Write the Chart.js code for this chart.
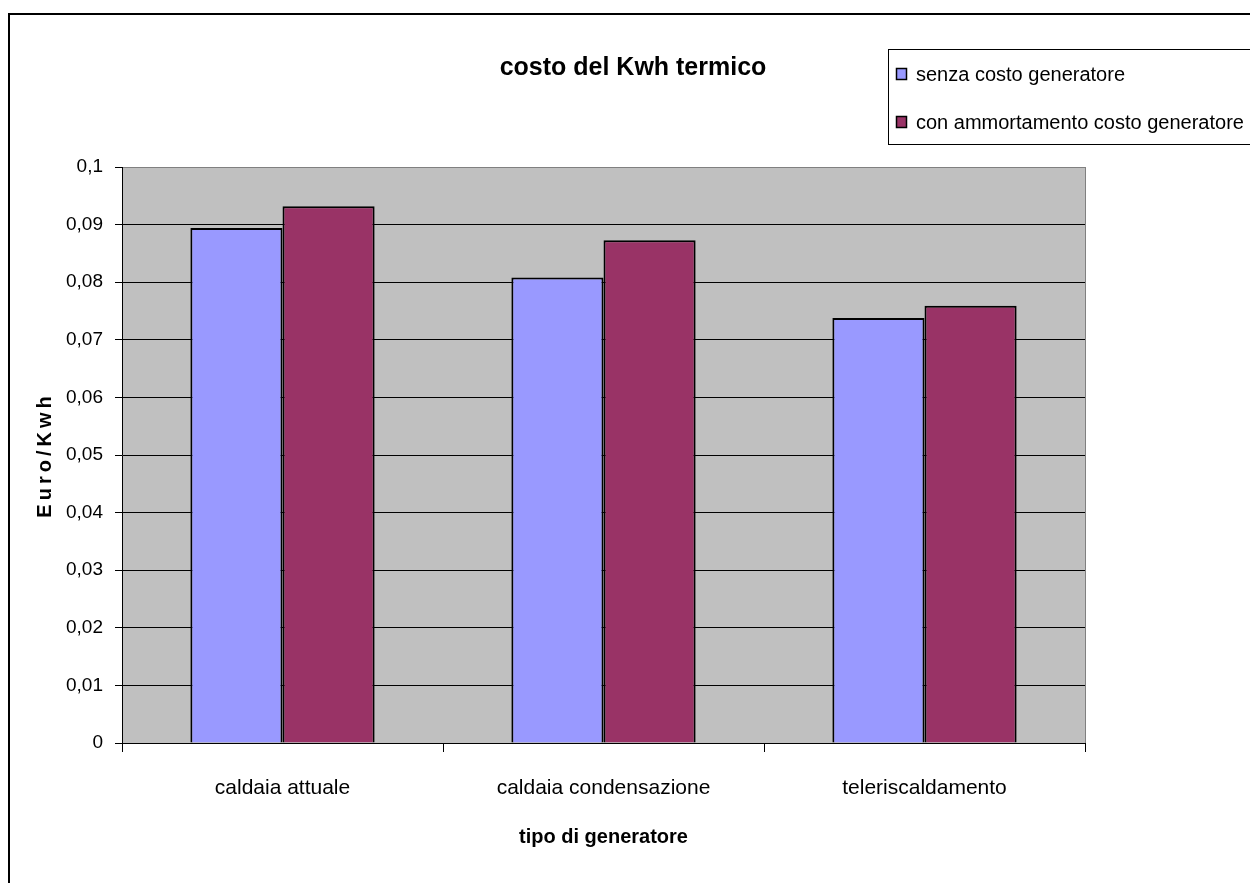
<!DOCTYPE html>
<html>
<head>
<meta charset="utf-8">
<script src="https://cdn.jsdelivr.net/npm/chart.js@4/dist/chart.umd.min.js"></script>
<style>
  html, body { margin: 0; padding: 0; background: #fff; }
  #wrap { width: 1250px; height: 883px; }
</style>
</head>
<body>
<div id="wrap"><canvas id="kwh_chart" width="1250" height="883"></canvas></div>
<script>
// costo del Kwh termico per tipo di generatore
const categories = ['caldaia attuale', 'caldaia condensazione', 'teleriscaldamento'];
const senzaCosto = [0.0894, 0.0808, 0.0738];
const conAmmortamento = [0.0932, 0.0873, 0.0759];
const seriesNames = ['senza costo generatore', 'con ammortamento costo generatore'];
const seriesColors = ['#9999FF', '#993366'];
const yTickLabels = ['0', '0,01', '0,02', '0,03', '0,04', '0,05', '0,06', '0,07', '0,08', '0,09', '0,1'];

const FONT = "'Liberation Sans', Arial, sans-serif";

// frame, grey plot area, titles and the boxed legend
const sheetPlugin = {
    id: 'sheet',
    beforeDraw(chart){
        const ctx = chart.ctx;
        const a = chart.chartArea;
        ctx.save();
        ctx.fillStyle = '#fff';
        ctx.fillRect(0, 0, chart.width, chart.height);
        ctx.fillStyle = '#C0C0C0';
        ctx.fillRect(a.left, a.top, a.right - a.left, a.bottom - a.top);
        // outer frame (only left and top are in view)
        ctx.strokeStyle = '#000';
        ctx.lineWidth = 2;
        ctx.beginPath();
        ctx.moveTo(9, chart.height);
        ctx.lineTo(9, 14);
        ctx.lineTo(chart.width, 14);
        ctx.stroke();
        ctx.restore();
    },
    beforeDatasetsDraw(chart){
        const ctx = chart.ctx;
        const a = chart.chartArea;
        ctx.save();
        ctx.strokeStyle = '#808080';
        ctx.lineWidth = 1;
        ctx.beginPath();
        ctx.moveTo(a.right + 0.5, a.top);
        ctx.lineTo(a.right + 0.5, a.bottom);
        ctx.stroke();
        ctx.restore();
    },
    afterDraw(chart){
        const ctx = chart.ctx;
        const a = chart.chartArea;
        ctx.save();
        ctx.fillStyle = '#000';
        ctx.textBaseline = 'middle';
        ctx.textAlign = 'center';

        ctx.font = 'bold 25px ' + FONT;
        ctx.fillText('costo del Kwh termico', 633, 68);

        ctx.font = 'bold 20px ' + FONT;
        ctx.fillText('tipo di generatore', (a.left + a.right) / 2, 837);

        ctx.save();
        ctx.translate(45, (a.top + a.bottom) / 2);
        ctx.rotate(-Math.PI / 2);
        ctx.letterSpacing = '4px';
        ctx.fillText('Euro/Kwh', 0, 0);
        ctx.restore();

        // legend
        ctx.strokeStyle = '#000';
        ctx.lineWidth = 1;
        ctx.fillStyle = '#fff';
        ctx.fillRect(888.5, 49.5, 400, 95);
        ctx.strokeRect(888.5, 49.5, 400, 95);
        ctx.textAlign = 'left';
        ctx.font = '20px ' + FONT;
        const rows = [74, 122];
        for (let i = 0; i < seriesNames.length; i++) {
            ctx.fillStyle = seriesColors[i];
            ctx.fillRect(896.5, rows[i] - 5.5, 10, 11);
            ctx.lineWidth = 1.5;
            ctx.strokeRect(896.5, rows[i] - 5.5, 10, 11);
            ctx.fillStyle = '#000';
            ctx.fillText(seriesNames[i], 916, rows[i] + 1);
        }
        ctx.restore();
    }
};

const ctx = document.getElementById('kwh_chart').getContext('2d');
const myChart = new Chart(ctx, {
    type: 'bar',
    data: {
        labels: categories,
        datasets: [{
            label: seriesNames[0],
            data: senzaCosto,
            backgroundColor: seriesColors[0],
            borderColor: '#000',
            borderWidth: 2
        }, {
            label: seriesNames[1],
            data: conAmmortamento,
            backgroundColor: seriesColors[1],
            borderColor: '#000',
            borderWidth: 2
        }]
    },
    options: {
        responsive: false,
        animation: false,
        layout: {
            padding: { top: 167, right: 165, left: 0, bottom: 0 }
        },
        datasets: {
            bar: { categoryPercentage: 0.574, barPercentage: 1.0 }
        },
        plugins: {
            legend: { display: false },
            title: { display: false },
            tooltip: { enabled: false }
        },
        scales: {
            x: {
                afterFit(scale){ scale.height = 140; },
                grid: {
                    offset: true,
                    drawOnChartArea: false,
                    drawTicks: true,
                    tickLength: 9,
                    color: '#000'
                },
                border: { color: '#000', width: 1 },
                ticks: {
                    color: '#000',
                    padding: 24,
                    font: { family: FONT, size: 21 }
                }
            },
            y: {
                min: 0,
                max: 0.1,
                afterFit(scale){ scale.width = 122; },
                grid: {
                    color: (c) => (c.tick && c.tick.value >= 0.1 ? '#808080' : '#000'),
                    tickLength: 7,
                    tickColor: '#000'
                },
                border: { color: '#000', width: 1 },
                ticks: {
                    stepSize: 0.01,
                    color: '#000',
                    padding: 12,
                    font: { family: FONT, size: 19 },
                    callback: (value, index) => yTickLabels[index]
                }
            }
        }
    },
    plugins: [sheetPlugin]
});
</script>
</body>
</html>
